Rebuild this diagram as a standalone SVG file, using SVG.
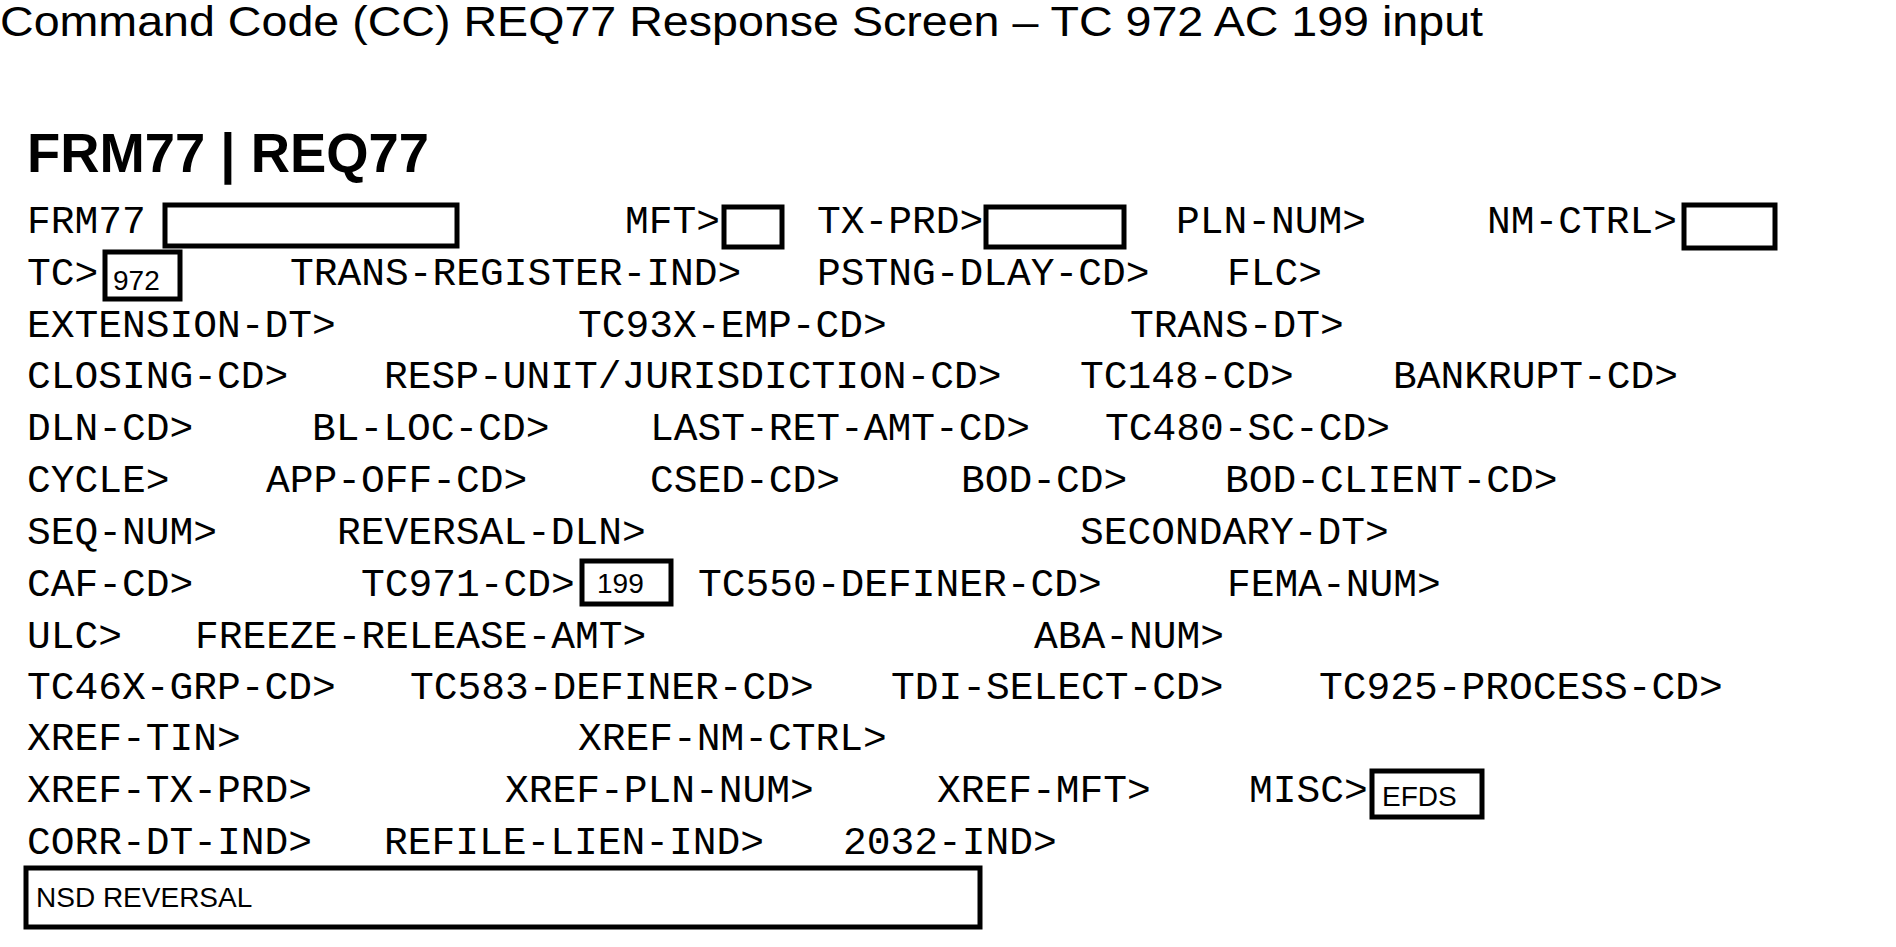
<svg xmlns="http://www.w3.org/2000/svg" width="1896" height="947" viewBox="0 0 1896 947">
<style>
.m{font-family:"Liberation Mono","DejaVu Sans Mono",monospace;font-size:39.6px;fill:#000}
.b{fill:#fff;stroke:#000;stroke-width:5}
.s{font-family:"Liberation Sans",Arial,sans-serif;font-size:28px;fill:#000}
</style>
<rect width="1896" height="947" fill="#fff"/>
<text x="0" y="36" font-family="Liberation Sans,Arial,sans-serif" font-size="42" textLength="1483" lengthAdjust="spacingAndGlyphs">Command Code (CC) REQ77 Response Screen – TC 972 AC 199 input</text>
<text x="27" y="172" font-family="Liberation Sans,Arial,sans-serif" font-weight="bold" font-size="56" textLength="402" lengthAdjust="spacingAndGlyphs">FRM77 | REQ77</text>
<g id="fields">
<text class="m" y="233"><tspan x="27">FRM77</tspan><tspan x="625">MFT&gt;</tspan><tspan x="817">TX-PRD&gt;</tspan><tspan x="1176">PLN-NUM&gt;</tspan><tspan x="1487">NM-CTRL&gt;</tspan></text>
<text class="m" y="285"><tspan x="27">TC&gt;</tspan><tspan x="290">TRANS-REGISTER-IND&gt;</tspan><tspan x="817">PSTNG-DLAY-CD&gt;</tspan><tspan x="1227">FLC&gt;</tspan></text>
<text class="m" y="337"><tspan x="27">EXTENSION-DT&gt;</tspan><tspan x="578">TC93X-EMP-CD&gt;</tspan><tspan x="1130">TRANS-DT&gt;</tspan></text>
<text class="m" y="388"><tspan x="27">CLOSING-CD&gt;</tspan><tspan x="384">RESP-UNIT/JURISDICTION-CD&gt;</tspan><tspan x="1080">TC148-CD&gt;</tspan><tspan x="1393">BANKRUPT-CD&gt;</tspan></text>
<text class="m" y="440"><tspan x="27">DLN-CD&gt;</tspan><tspan x="312">BL-LOC-CD&gt;</tspan><tspan x="650">LAST-RET-AMT-CD&gt;</tspan><tspan x="1105">TC480-SC-CD&gt;</tspan></text>
<text class="m" y="492"><tspan x="27">CYCLE&gt;</tspan><tspan x="266">APP-OFF-CD&gt;</tspan><tspan x="650">CSED-CD&gt;</tspan><tspan x="961">BOD-CD&gt;</tspan><tspan x="1225">BOD-CLIENT-CD&gt;</tspan></text>
<text class="m" y="544"><tspan x="27">SEQ-NUM&gt;</tspan><tspan x="337">REVERSAL-DLN&gt;</tspan><tspan x="1080">SECONDARY-DT&gt;</tspan></text>
<text class="m" y="596"><tspan x="27">CAF-CD&gt;</tspan><tspan x="361">TC971-CD&gt;</tspan><tspan x="698">TC550-DEFINER-CD&gt;</tspan><tspan x="1227">FEMA-NUM&gt;</tspan></text>
<text class="m" y="648"><tspan x="27">ULC&gt;</tspan><tspan x="195">FREEZE-RELEASE-AMT&gt;</tspan><tspan x="1034">ABA-NUM&gt;</tspan></text>
<text class="m" y="699"><tspan x="27">TC46X-GRP-CD&gt;</tspan><tspan x="410">TC583-DEFINER-CD&gt;</tspan><tspan x="891">TDI-SELECT-CD&gt;</tspan><tspan x="1319">TC925-PROCESS-CD&gt;</tspan></text>
<text class="m" y="750"><tspan x="27">XREF-TIN&gt;</tspan><tspan x="578">XREF-NM-CTRL&gt;</tspan></text>
<text class="m" y="802"><tspan x="27">XREF-TX-PRD&gt;</tspan><tspan x="505">XREF-PLN-NUM&gt;</tspan><tspan x="937">XREF-MFT&gt;</tspan><tspan x="1249">MISC&gt;</tspan></text>
<text class="m" y="854"><tspan x="27">CORR-DT-IND&gt;</tspan><tspan x="384">REFILE-LIEN-IND&gt;</tspan><tspan x="843">2032-IND&gt;</tspan></text>
</g>
<g id="box-frm77"><rect class="b" x="165" y="205" width="292" height="41"/></g>
<g id="box-mft"><rect class="b" x="724" y="207" width="58" height="40"/></g>
<g id="box-txprd"><rect class="b" x="986" y="207" width="138" height="40"/></g>
<g id="box-nmctrl"><rect class="b" x="1684" y="205" width="91" height="43"/></g>
<g id="box-tc"><rect class="b" x="105" y="252" width="75" height="47"/><text class="s" x="113" y="290">972</text></g>
<g id="box-tc971"><rect class="b" x="582" y="561" width="89" height="43"/><text class="s" x="597" y="593">199</text></g>
<g id="box-misc"><rect class="b" x="1372" y="771" width="110" height="46"/><text class="s" x="1382" y="806">EFDS</text></g>
<g id="box-nsd"><rect class="b" x="26" y="868" width="954" height="59"/><text class="s" x="36" y="907">NSD REVERSAL</text></g>
<g id="connectors"/>
</svg>
